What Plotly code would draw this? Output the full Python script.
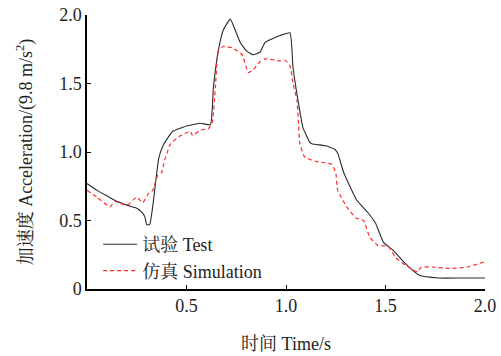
import plotly.graph_objects as go

# Test curve (time s, acceleration in g)
test_t = [0.0, 0.05, 0.10, 0.15, 0.226, 0.25, 0.276, 0.29, 0.30, 0.315, 0.33, 0.36, 0.38, 0.40, 0.43,
          0.50, 0.57, 0.62, 0.635, 0.66, 0.685, 0.72, 0.75, 0.77, 0.80, 0.835, 0.87, 0.895, 0.97, 1.02,
          1.035, 1.06, 1.085, 1.12, 1.13, 1.20, 1.245, 1.26, 1.29, 1.355, 1.41, 1.45, 1.49, 1.54, 1.59,
          1.67, 1.77, 1.88, 2.0]
test_v = [0.77, 0.72, 0.68, 0.64, 0.60, 0.59, 0.56, 0.53, 0.47, 0.47, 0.60, 0.95, 1.04, 1.09, 1.15,
          1.19, 1.21, 1.20, 1.47, 1.74, 1.89, 1.97, 1.87, 1.80, 1.74, 1.71, 1.73, 1.80, 1.85, 1.87,
          1.62, 1.38, 1.18, 1.07, 1.06, 1.045, 1.02, 0.99, 0.85, 0.65, 0.56, 0.48, 0.34, 0.28, 0.20,
          0.10, 0.08, 0.08, 0.08]

# Simulation curve
sim_t = [0.0, 0.05, 0.115, 0.14, 0.2, 0.25, 0.28, 0.31, 0.33, 0.355, 0.375, 0.39, 0.42, 0.47, 0.52,
         0.53, 0.57, 0.61, 0.63, 0.645, 0.66, 0.685, 0.73, 0.78, 0.81, 0.835, 0.87, 0.895, 0.97, 0.995,
         1.02, 1.035, 1.055, 1.07, 1.095, 1.155, 1.23, 1.25, 1.26, 1.305, 1.35, 1.39, 1.42, 1.46, 1.515,
         1.55, 1.60, 1.66, 1.68, 1.74, 1.82, 1.91, 2.0]
sim_v = [0.72, 0.67, 0.60, 0.64, 0.61, 0.67, 0.63, 0.70, 0.72, 0.83, 0.85, 0.94, 1.06, 1.12, 1.15,
         1.12, 1.16, 1.17, 1.22, 1.47, 1.74, 1.77, 1.76, 1.71, 1.58, 1.60, 1.66, 1.68, 1.665, 1.67,
         1.63, 1.50, 1.38, 1.06, 0.96, 0.93, 0.91, 0.85, 0.72, 0.60, 0.52, 0.50, 0.38, 0.32, 0.31,
         0.23, 0.175, 0.125, 0.16, 0.16, 0.15, 0.16, 0.20]

x_ticks = [0.5, 1.0, 1.5, 2.0]
x_ticklabels = ["0.5", "1.0", "1.5", "2.0"]
y_ticks = [0, 0.5, 1.0, 1.5, 2.0]
y_ticklabels = ["0", "0.5", "1.0", "1.5", "2.0"]

FONT = "Liberation Serif, Times New Roman, Noto Serif CJK SC, Noto Sans CJK SC, serif"

fig = go.Figure()
fig.add_trace(go.Scatter(x=test_t, y=test_v, mode="lines", name="试验 Test",
                         line=dict(color="#2a2a2a", width=1.1, shape="spline", smoothing=0.4)))
fig.add_trace(go.Scatter(x=sim_t, y=sim_v, mode="lines", name="仿真 Simulation",
                         line=dict(color="#ff2a2a", width=1.2, dash="4px,3px", shape="spline", smoothing=0.4)))

fig.update_layout(
    width=501, height=356,
    margin=dict(l=87, r=16, t=15, b=67),
    paper_bgcolor="white", plot_bgcolor="white",
    font=dict(family=FONT, size=18, color="#222"),
    showlegend=True,
    legend=dict(x=0.028, y=0.23, xanchor="left", yanchor="top", bgcolor="rgba(0,0,0,0)",
                font=dict(size=18), tracegroupgap=0, itemwidth=34),
    xaxis=dict(range=[0, 2.0], tickvals=x_ticks, ticktext=x_ticklabels, ticks="inside", ticklen=4,
               showline=True, linecolor="black", linewidth=1.5, tickcolor="black", showgrid=False,
               zeroline=False, automargin=False,
               title=dict(text="时间 Time/s", standoff=22, font=dict(size=18))),
    yaxis=dict(range=[0, 2.0], tickvals=y_ticks, ticktext=y_ticklabels, ticks="inside", ticklen=4,
               showline=True, linecolor="black", linewidth=1.5, tickcolor="black", showgrid=False,
               zeroline=False, automargin=False,
               title=dict(text="加速度 Acceleration/(9.8 m/s<sup>2</sup>)", standoff=22, font=dict(size=18))),
)

fig.write_html("out.html")
